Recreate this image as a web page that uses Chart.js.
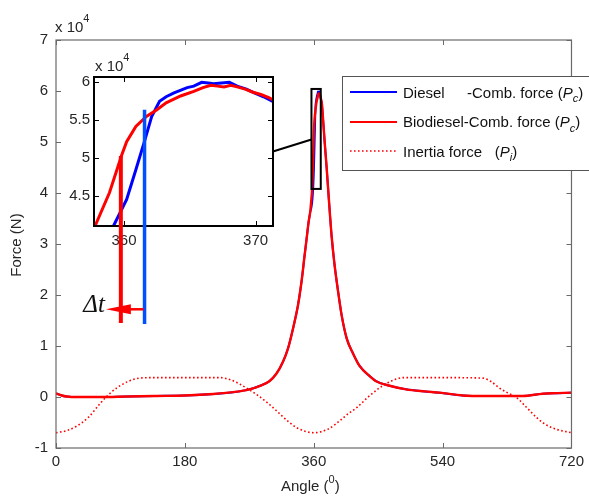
<!DOCTYPE html>
<html>
<head>
<meta charset="utf-8">
<script src="https://cdn.jsdelivr.net/npm/chart.js@4.4.1/dist/chart.umd.min.js"></script>
<style>
  html, body { margin: 0; padding: 0; background: #fff; }
  #wrap { position: relative; width: 589px; height: 498px; overflow: hidden; }
  #wrap canvas { position: absolute; left: 0; top: 0; }
</style>
</head>
<body>
<div id="wrap">
  <canvas id="mainChart" width="589" height="498"></canvas>
  <canvas id="insetChart" width="589" height="498"></canvas>
</div>
<script>
// force values are in units of 10^4 N, angles in degrees
const combAngleLow = [0, 8, 15, 30, 60, 100, 140, 180, 220, 250, 270, 285, 298, 308, 317, 324, 331, 338, 343, 347, 350, 353, 355];
const combForceLow = [0.07, 0.03, 0.01, 0.0, 0.0, 0.01, 0.02, 0.03, 0.06, 0.10, 0.15, 0.22, 0.31, 0.46, 0.69, 0.95, 1.34, 1.80, 2.27, 2.75, 3.10, 3.45, 3.62];

const dieselPeakAngle = [357.0, 358.3, 359.2, 360.2, 360.9, 361.6, 362.1, 362.7, 363.2, 363.8, 364.8, 365.3, 365.9, 366.4, 366.8, 367.4, 368.0, 368.6, 369.3, 369.9, 370.6, 371.5];
const dieselPeakForce = [3.74, 3.90, 4.10, 4.45, 4.84, 5.24, 5.54, 5.74, 5.80, 5.85, 5.92, 5.94, 5.99, 5.98, 5.97, 5.98, 5.99, 5.94, 5.90, 5.85, 5.80, 5.72];

const bioPeakAngle = [356.5, 357.8, 358.9, 359.8, 360.2, 360.9, 361.7, 362.5, 363.2, 364.3, 365.3, 366.0, 366.6, 367.1, 367.6, 368.1, 368.6, 369.2, 369.8, 370.4, 371.0, 371.5];
const bioPeakForce = [3.85, 4.10, 4.54, 5.02, 5.21, 5.41, 5.54, 5.63, 5.72, 5.81, 5.87, 5.92, 5.95, 5.94, 5.93, 5.95, 5.93, 5.90, 5.86, 5.83, 5.79, 5.74];

const combAngleHigh = [373, 375, 378, 381, 385, 389, 394, 399, 406, 415, 424, 438, 447, 466, 489, 515, 536, 568, 600, 652, 680, 700, 720];
const combForceHigh = [5.45, 5.05, 4.50, 3.90, 3.15, 2.60, 2.07, 1.60, 1.15, 0.85, 0.61, 0.41, 0.31, 0.22, 0.15, 0.11, 0.085, 0.03, 0.02, 0.02, 0.065, 0.075, 0.085];

const inertiaAngle = [0, 15, 29, 45, 61, 70, 85, 100, 117, 140, 180, 229, 245, 257, 270, 280, 295, 308, 326, 340, 360, 380, 396, 408, 420, 436, 452, 468, 485, 540, 596, 608, 619, 631, 643, 657, 671, 685, 698, 720];
const inertiaForce = [-0.70, -0.66, -0.57, -0.40, -0.14, 0.0, 0.18, 0.30, 0.37, 0.38, 0.38, 0.38, 0.33, 0.25, 0.14, 0.05, -0.11, -0.27, -0.50, -0.63, -0.70, -0.63, -0.47, -0.33, -0.21, 0.0, 0.18, 0.31, 0.38, 0.38, 0.37, 0.30, 0.18, 0.08, -0.01, -0.20, -0.40, -0.55, -0.63, -0.70];

const seriesLabels = ['Diesel', 'Biodiesel', 'Inertia force'];

// zoom window and Δt markers (angle / force units)
const zoomBox = { x0: 356.8, x1: 369.8, y0: 4.08, y1: 6.04 };
const bioStart = { angle: 359.76, force: 5.02 };
const dieselStart = { angle: 361.56, force: 5.63 };
const markerBottom = 1.45;
const arrowLevel = 1.72;

const SANS = '"Liberation Sans", Arial, sans-serif';
const RED = '#ff0000';
const BLUE = '#0000ff';

Chart.defaults.font.family = SANS;
Chart.defaults.font.size = 15;
Chart.defaults.color = '#262626';

function pts(xs, ys) {
  return xs.map((x, i) => ({ x: x, y: ys[i] }));
}

const dieselData = pts(combAngleLow.concat(dieselPeakAngle, combAngleHigh), combForceLow.concat(dieselPeakForce, combForceHigh));
const bioData = pts(combAngleLow.concat(bioPeakAngle, combAngleHigh), combForceLow.concat(bioPeakForce, combForceHigh));
const inertiaData = pts(inertiaAngle, inertiaForce);

function drawRich(ctx, x, y, parts) {
  parts.forEach(p => {
    ctx.font = (p.italic ? 'italic ' : '') + (p.size || 15) + 'px ' + SANS;
    ctx.fillText(p.t, x, y + (p.dy || 0));
    x += ctx.measureText(p.t).width;
  });
  return x;
}

function drawFrame(chart, color, width, tickLen) {
  const ctx = chart.ctx, a = chart.chartArea, x = chart.scales.x, y = chart.scales.y;
  ctx.save();
  ctx.strokeStyle = color;
  ctx.lineWidth = 1;
  ctx.beginPath();
  x.ticks.forEach(t => {
    const px = Math.round(x.getPixelForValue(t.value)) + 0.5;
    ctx.moveTo(px, a.bottom); ctx.lineTo(px, a.bottom - tickLen);
    ctx.moveTo(px, a.top); ctx.lineTo(px, a.top + tickLen);
  });
  y.ticks.forEach(t => {
    const py = Math.round(y.getPixelForValue(t.value)) + 0.5;
    ctx.moveTo(a.left, py); ctx.lineTo(a.left + tickLen, py);
    ctx.moveTo(a.right, py); ctx.lineTo(a.right - tickLen, py);
  });
  ctx.stroke();
  ctx.lineWidth = width;
  ctx.strokeRect(a.left, a.top, a.right - a.left, a.bottom - a.top);
  ctx.restore();
}

const mainDecor = {
  id: 'mainDecor',
  afterDraw(chart) {
    const ctx = chart.ctx, xs = chart.scales.x, ys = chart.scales.y;
    drawFrame(chart, '#6a6a6a', 1.2, 5);

    // zoom window
    ctx.save();
    ctx.strokeStyle = '#000';
    ctx.lineWidth = 2;
    const bx0 = xs.getPixelForValue(zoomBox.x0), bx1 = xs.getPixelForValue(zoomBox.x1);
    const by0 = ys.getPixelForValue(zoomBox.y1), by1 = ys.getPixelForValue(zoomBox.y0);
    ctx.strokeRect(bx0, by0, bx1 - bx0, by1 - by0);

    // legend
    const ds = chart.data.datasets;
    ctx.fillStyle = '#fff';
    ctx.fillRect(342, 76, 260, 94);
    ctx.strokeStyle = '#555';
    ctx.lineWidth = 1;
    ctx.strokeRect(342.5, 76.5, 260, 94);
    const rows = [92, 122, 151];
    const legendStyle = [ds[1], ds[0], ds[2]];
    rows.forEach((ry, i) => {
      ctx.strokeStyle = legendStyle[i].borderColor;
      ctx.lineWidth = i === 2 ? 1.6 : 2;
      ctx.setLineDash(i === 2 ? [1.6, 2.4] : []);
      ctx.beginPath();
      ctx.moveTo(350, ry); ctx.lineTo(397, ry);
      ctx.stroke();
    });
    ctx.setLineDash([]);
    ctx.fillStyle = '#111';
    ctx.textBaseline = 'alphabetic';
    ctx.textAlign = 'left';
    drawRich(ctx, 403, 97.5, [{ t: seriesLabels[0] }]);
    drawRich(ctx, 467, 97.5, [{ t: '-Comb. force (' }, { t: 'P', italic: true }, { t: 'c', italic: true, size: 11, dy: 4.5 }, { t: ')' }]);
    drawRich(ctx, 403, 127, [{ t: seriesLabels[1] + '-Comb. force (' }, { t: 'P', italic: true }, { t: 'c', italic: true, size: 11, dy: 4.5 }, { t: ')' }]);
    drawRich(ctx, 403, 156.5, [{ t: seriesLabels[2] + '   (' }, { t: 'P', italic: true }, { t: 'i', italic: true, size: 11, dy: 4.5 }, { t: ')' }]);

    // axis titles and exponent
    ctx.fillStyle = '#262626';
    drawRich(ctx, 281, 491, [{ t: 'Angle (' }, { t: '0', size: 11, dy: -8 }, { t: ')' }]);
    drawRich(ctx, 55, 32, [{ t: 'x 10' }, { t: '4', size: 11, dy: -10 }]);
    ctx.save();
    ctx.translate(17, 245);
    ctx.rotate(-Math.PI / 2);
    ctx.textAlign = 'center';
    ctx.textBaseline = 'middle';
    ctx.font = '15px ' + SANS;
    ctx.fillText('Force (N)', 0, 0);
    ctx.restore();
    ctx.restore();
  }
};

const mainChart = new Chart(document.getElementById('mainChart'), {
  type: 'line',
  data: {
    datasets: [
      { label: seriesLabels[1], data: bioData, borderColor: RED, borderWidth: 2.4, order: 0 },
      { label: seriesLabels[0], data: dieselData, borderColor: BLUE, borderWidth: 2, order: 1 },
      { label: seriesLabels[2], data: inertiaData, borderColor: RED, borderWidth: 1.6, borderDash: [1.6, 2.4], order: 2 }
    ]
  },
  options: {
    responsive: false,
    animation: false,
    devicePixelRatio: 1,
    events: [],
    layout: { padding: { left: 0, top: 40, right: 16, bottom: 0 } },
    elements: { point: { radius: 0 }, line: { cubicInterpolationMode: 'monotone', fill: false } },
    plugins: { legend: { display: false }, tooltip: { enabled: false } },
    scales: {
      x: {
        type: 'linear', min: 0, max: 720,
        ticks: { stepSize: 180, padding: 5, maxRotation: 0, autoSkip: false },
        grid: { display: false, drawTicks: false },
        border: { display: false },
        afterFit: s => { s.height = 50; }
      },
      y: {
        type: 'linear', min: -1, max: 7,
        ticks: { stepSize: 1, padding: 8, autoSkip: false },
        grid: { display: false, drawTicks: false },
        border: { display: false },
        afterFit: s => { s.width = 56; }
      }
    }
  },
  plugins: [mainDecor]
});

const insetDecor = {
  id: 'insetDecor',
  afterDraw(chart) {
    const ctx = chart.ctx, a = chart.chartArea, xs = chart.scales.x, ys = chart.scales.y;
    const mx = mainChart.scales.x, my = mainChart.scales.y;
    drawFrame(chart, '#000', 2, 5);
    ctx.save();

    // connector from inset to zoom window
    ctx.strokeStyle = '#000';
    ctx.lineWidth = 2;
    ctx.beginPath();
    ctx.moveTo(a.right, ys.getPixelForValue(5.08));
    ctx.lineTo(mx.getPixelForValue(zoomBox.x0), my.getPixelForValue(5.05));
    ctx.stroke();

    // onset markers
    const rx = xs.getPixelForValue(bioStart.angle);
    const bx = xs.getPixelForValue(dieselStart.angle);
    const yb = my.getPixelForValue(markerBottom);
    ctx.lineWidth = 4;
    ctx.strokeStyle = RED;
    ctx.beginPath();
    ctx.moveTo(rx, ys.getPixelForValue(bioStart.force)); ctx.lineTo(rx, yb);
    ctx.stroke();
    ctx.lineWidth = 3.5;
    ctx.strokeStyle = '#0050ff';
    ctx.beginPath();
    ctx.moveTo(bx, ys.getPixelForValue(dieselStart.force)); ctx.lineTo(bx, yb + 1);
    ctx.stroke();

    // Δt arrow
    const ay = my.getPixelForValue(arrowLevel);
    const tip = rx - 15;
    ctx.strokeStyle = RED;
    ctx.fillStyle = RED;
    ctx.lineWidth = 2.5;
    ctx.beginPath();
    ctx.moveTo(rx + 8, ay); ctx.lineTo(bx - 1, ay);
    ctx.stroke();
    ctx.beginPath();
    ctx.moveTo(tip, ay);
    ctx.lineTo(rx + 10, ay - 5);
    ctx.lineTo(rx + 10, ay + 5);
    ctx.closePath();
    ctx.fill();
    ctx.fillStyle = '#111';
    ctx.font = 'italic 25px "Liberation Serif", "Times New Roman", serif';
    ctx.textAlign = 'right';
    ctx.textBaseline = 'alphabetic';
    ctx.fillText('\u0394t', tip - 1, ay + 3);

    // exponent
    ctx.textAlign = 'left';
    ctx.fillStyle = '#262626';
    drawRich(ctx, a.left + 1, a.top - 6, [{ t: 'x 10' }, { t: '4', size: 11, dy: -10 }]);
    ctx.restore();
  }
};

const insetChart = new Chart(document.getElementById('insetChart'), {
  type: 'line',
  data: {
    datasets: [
      { label: seriesLabels[1], data: bioData, borderColor: RED, borderWidth: 3, order: 0, clip: 0 },
      { label: seriesLabels[0], data: dieselData, borderColor: BLUE, borderWidth: 3, order: 1, clip: 0 }
    ]
  },
  options: {
    responsive: false,
    animation: false,
    devicePixelRatio: 1,
    events: [],
    layout: { padding: { left: 59, top: 77, right: 316, bottom: 247 } },
    elements: { point: { radius: 0 }, line: { tension: 0, fill: false } },
    plugins: { legend: { display: false }, tooltip: { enabled: false } },
    scales: {
      x: {
        type: 'linear', min: 357.72, max: 371.32,
        ticks: { stepSize: 10, includeBounds: false, padding: 6, maxRotation: 0, autoSkip: false },
        grid: { display: false, drawTicks: false },
        border: { display: false },
        afterFit: s => { s.height = 25; }
      },
      y: {
        type: 'linear', min: 4.1, max: 6.06,
        ticks: { stepSize: 0.5, includeBounds: false, padding: 4, autoSkip: false, callback: v => String(Math.round(v * 10) / 10) },
        grid: { display: false, drawTicks: false },
        border: { display: false },
        afterFit: s => { s.width = 35; }
      }
    }
  },
  plugins: [insetDecor]
});
</script>
</body>
</html>
